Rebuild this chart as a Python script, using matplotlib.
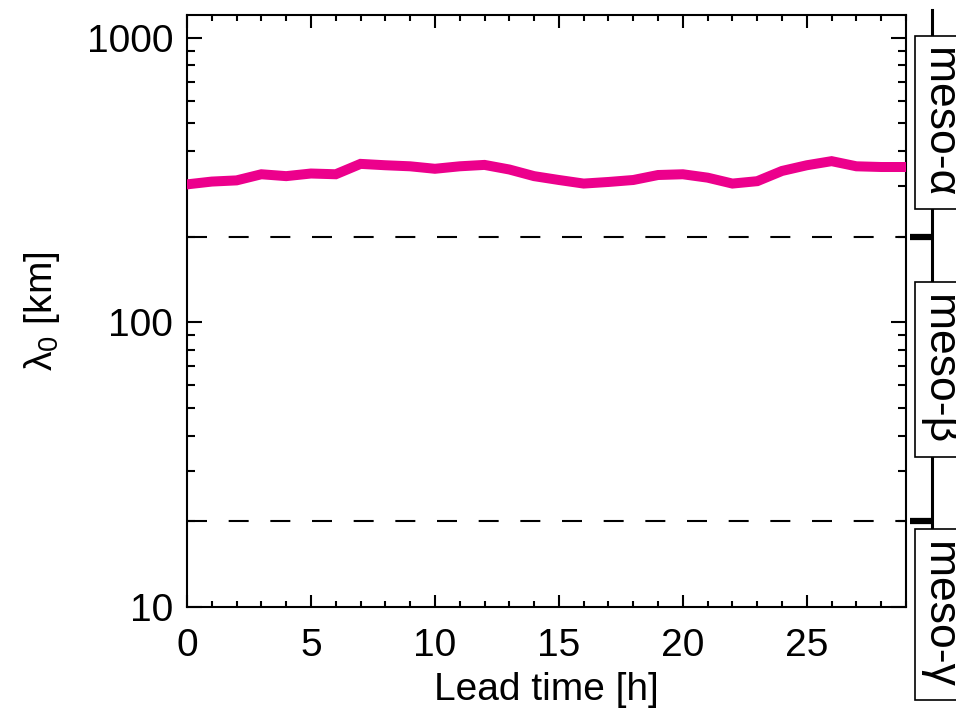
import matplotlib
matplotlib.use("Agg")
import matplotlib.pyplot as plt
import matplotlib.transforms as mtransforms
from matplotlib.patches import Rectangle
from matplotlib.ticker import MultipleLocator, LogLocator, NullFormatter, FixedLocator

## DATA

lead_time = list(range(0, 30))
lambda0 = [305, 312, 315, 331, 326, 333, 331, 360, 356, 353,
           346, 353, 357, 344, 326, 316, 307, 311, 316, 329,
           331, 322, 307, 313, 340, 356, 368, 353, 351, 351]

scale_limits = [200, 20]
scale_names = ["meso-α", "meso-β", "meso-γ"]
x_ticks = [0, 5, 10, 15, 20, 25]
y_ticks = [10, 100, 1000]

## STYLE

LINE_COLOR = "#EC008C"
plt.rcParams["font.family"] = ["Liberation Sans", "DejaVu Sans"]
plt.rcParams["mathtext.fontset"] = "custom"
plt.rcParams["mathtext.rm"] = "Liberation Sans"
plt.rcParams["mathtext.it"] = "Liberation Sans"
plt.rcParams["lines.scale_dashes"] = False

fig = plt.figure(figsize=(9.56, 7.11), dpi=100)
ax = fig.add_axes([0.1956, 0.1463, 0.7521, 0.8326])

ax.plot(lead_time, lambda0, color=LINE_COLOR, lw=7.2, solid_joinstyle="miter", zorder=3)
for lim in scale_limits:
	ax.axhline(lim, color="black", lw=1.5, dashes=(14.4, 15.6), zorder=2)

ax.set_yscale("log")
ax.set_xlim(0, 29)
ax.set_ylim(10, 1200)

ax.xaxis.set_major_locator(FixedLocator(x_ticks))
ax.xaxis.set_minor_locator(MultipleLocator(1))
ax.yaxis.set_major_locator(FixedLocator(y_ticks))
ax.yaxis.set_minor_locator(LogLocator(base=10, subs=range(2, 10)))
ax.yaxis.set_minor_formatter(NullFormatter())
ax.set_xticklabels([str(t) for t in x_ticks])
ax.set_yticklabels([str(t) for t in y_ticks])

ax.tick_params(which="both", direction="in", top=True, right=True, width=1.5,
			   labelsize=28, pad=10)
ax.tick_params(axis="x", which="major", pad=15)
ax.tick_params(axis="y", which="major", length=11)
ax.tick_params(axis="y", which="minor", length=5.5)
ax.tick_params(axis="x", which="major", length=9)
ax.tick_params(axis="x", which="minor", length=4.5)
for sp in ax.spines.values():
	sp.set_linewidth(1.5)

ax.set_xlabel("Lead time [h]", fontsize=28, labelpad=6)
ax.set_ylabel("λ$_0$ [km]", fontsize=28, labelpad=18)

## SCALE BANDS ON THE RIGHT

trans = mtransforms.blended_transform_factory(ax.transAxes, ax.transData)
bar_x = 1.036
ax.plot([bar_x, bar_x], [1250, 18.5], color="black", lw=2.2, transform=trans,
		clip_on=False, zorder=1)
for lim in scale_limits:
	ax.plot([1.005, bar_x], [lim, lim], color="black", lw=4.5, transform=trans,
			clip_on=False, solid_capstyle="butt", zorder=1)

box_bounds = [(249, 1016), (33.6, 138), (4.7, 18.8)]
for name, (lo, hi) in zip(scale_names, box_bounds):
	rect = Rectangle((1.0125, lo), 0.2, hi - lo, transform=trans, facecolor="white",
					 edgecolor="black", lw=1.2, clip_on=False, zorder=4)
	ax.add_patch(rect)
	yc = (lo * hi) ** 0.5
	ax.text(1.0165, yc, name, rotation=270, fontsize=32, ha="left", va="center",
			transform=trans, clip_on=False, zorder=5)

fig.savefig("out.png", dpi=100)
